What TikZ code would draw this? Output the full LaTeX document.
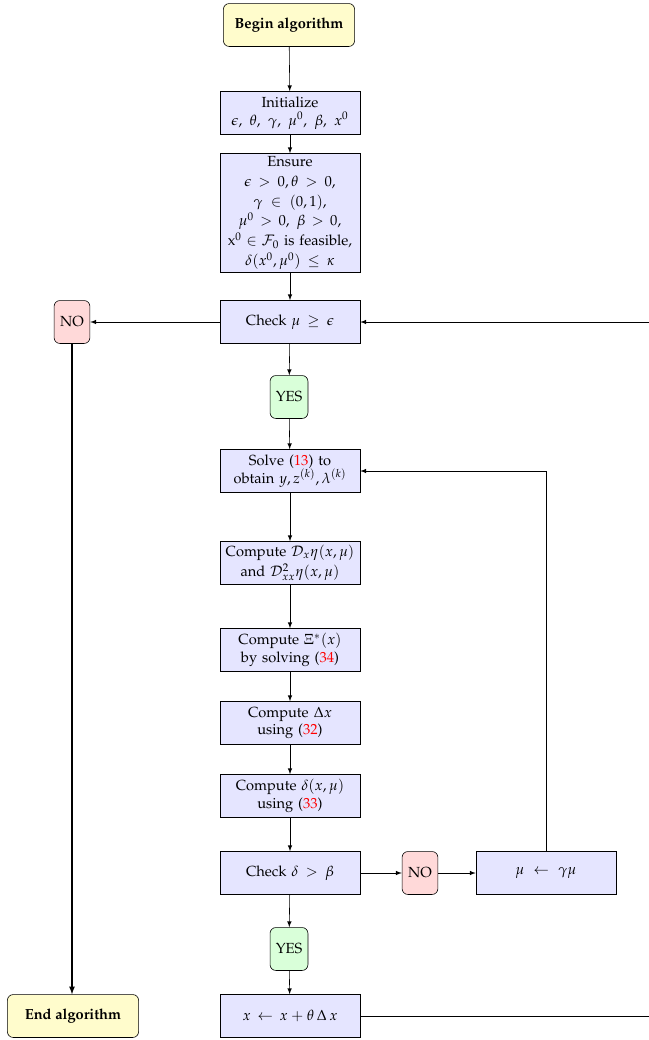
\documentclass[tikz,border=0pt]{standalone}
\usepackage[T1]{fontenc}
\usepackage{mathpazo}
\usepackage{xcolor}
\usetikzlibrary{positioning}

\tikzset{
  procbox/.style={draw, fill=blue!10, minimum width=3.36cm, minimum height=1.03cm, text width=3.2cm, align=center, inner sep=2pt},
  termbox/.style={draw, fill=yellow!20, rounded corners=4pt, minimum width=3.15cm, minimum height=1.03cm, font=\bfseries},
  nobox/.style={draw, fill=red!15, rounded corners=4pt, minimum width=0.86cm, minimum height=1.03cm, inner sep=1pt},
  yesbox/.style={draw, fill=green!15, rounded corners=4pt, minimum width=0.91cm, minimum height=1.03cm, inner sep=1pt},
}
\newcommand{\eqref}[1]{(\textcolor{red}{#1})}

\begin{document}
\begin{tikzpicture}[x=0.024cm, y=-0.024cm, >=latex]
  \useasboundingbox (0,0) rectangle (649,1040);

  % main column
  \node[termbox] (begin) at (289,25) {Begin algorithm};
  \node[procbox] (init) at (290,113) {Initialize\\ $\epsilon,\ \theta,\ \gamma,\ \mu^0,\ \beta,\ x^0$};
  \node[procbox] (ensure) at (290,213) {Ensure\\[1.5pt] $\epsilon > 0, \theta > 0,$\\[1.5pt] $\gamma \in (0,1),$\\[1.5pt] $\mu^0 > 0,\ \beta > 0,$\\[1.5pt] x$^0 \in \mathcal{F}_0$ is feasible,\\[1.5pt] $\delta(x^0,\mu^0) \le \kappa$};
  \node[procbox] (checkmu) at (290,322) {Check $\mu \ge \epsilon$};
  \node[nobox] (noA) at (72,322) {NO};
  \node[yesbox] (yesA) at (289,397) {YES};
  \node[procbox] (solve) at (290,471) {Solve \eqref{13} to\\ obtain $y, z^{(k)}, \lambda^{(k)}$};
  \node[procbox] (deriv) at (290,563) {Compute $\mathcal{D}_x\eta(x,\mu)$\\[2pt] and $\mathcal{D}^2_{xx}\eta(x,\mu)$};
  \node[procbox] (xistar) at (290,650) {Compute $\Xi^*(x)$\\ by solving \eqref{34}};
  \node[procbox] (dx) at (290,723) {Compute $\Delta x$\\ using \eqref{32}};
  \node[procbox] (delta) at (290,796) {Compute $\delta(x,\mu)$\\ using \eqref{33}};
  \node[procbox] (checkdelta) at (290,873) {Check $\delta > \beta$};
  \node[nobox] (noB) at (420,873) {NO};
  \node[procbox] (updmu) at (546,873) {$\mu \leftarrow \gamma\mu$};
  \node[yesbox] (yesB) at (289,949) {YES};
  \node[procbox] (stepx) at (290,1016) {$x \leftarrow x + \theta\,\Delta\,x$};
  \node[termbox] (endalg) at (73,1016) {End algorithm};

  % return path, runs off the right edge
  \coordinate (rbot) at (662,1016);

  \draw[->] (begin) -- (init);
  \draw[->] (init) -- (ensure);
  \draw[->] (ensure) -- (checkmu);
  \draw[->] (checkmu) -- (noA);
  \draw[->] (checkmu) -- (yesA);
  \draw[->] (yesA) -- (solve);
  \draw[->] (solve) -- (deriv);
  \draw[->] (deriv) -- (xistar);
  \draw[->] (xistar) -- (dx);
  \draw[->] (dx) -- (delta);
  \draw[->] (delta) -- (checkdelta);
  \draw[->] (checkdelta) -- (noB);
  \draw[->] (noB) -- (updmu);
  \draw[->] (updmu.north) |- (solve.east);
  \draw[->] (checkdelta) -- (yesB);
  \draw[->] (yesB) -- (stepx);
  \draw[->] (stepx.east) -- (rbot) |- (checkmu.east);
  \draw[->, thick] (noA) -- (noA |- endalg.north);
\end{tikzpicture}
\end{document}
